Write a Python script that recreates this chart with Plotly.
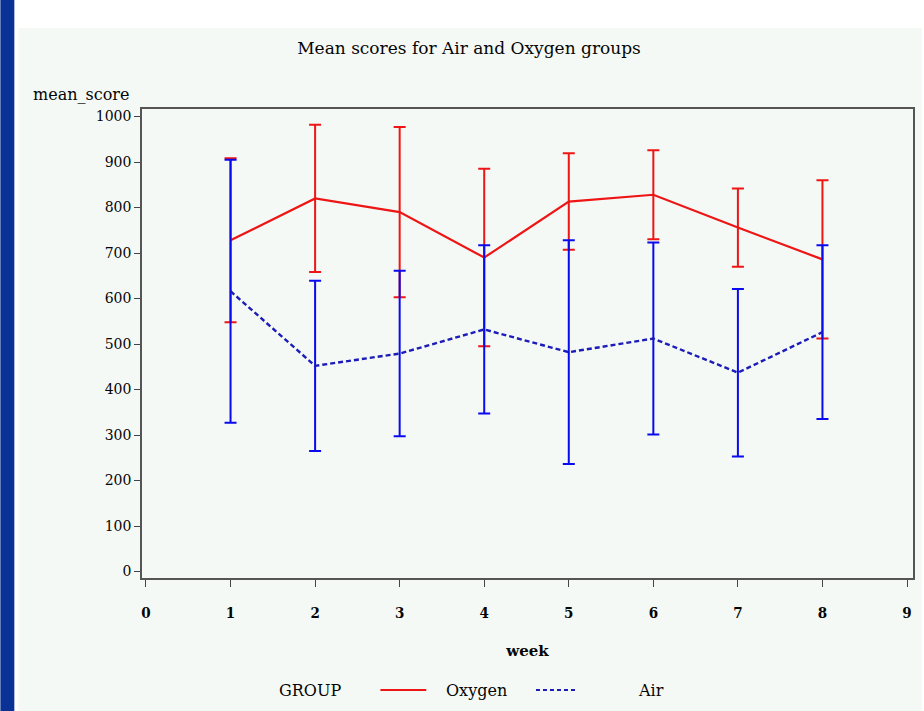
import plotly.graph_objects as go

# Weekly mean scores with +/- error half-widths for each group
weeks = [1, 2, 3, 4, 5, 6, 7, 8]
group_names = ["Oxygen", "Air"]
oxygen_mean = [728, 820, 790, 690, 813, 828, 756, 686]
oxygen_err = [180, 162, 187, 195, 106, 98, 86, 174]
air_mean = [616, 452, 479, 532, 482, 512, 437, 526]
air_err = [289, 187, 182, 185, 246, 211, 184, 191]
x_tick_values = list(range(0, 10))
y_tick_values = list(range(0, 1001, 100))

# Page and plot-area geometry (pixels)
W, H = 924, 711
L, R, T, B = 142, 915, 109, 578
X0_PX, X9_PX = 146, 909          # where week 0 and week 9 sit
Y0_PX, Y1000_PX = 571.5, 116.5   # where score 0 and 1000 sit

x_scale = (X9_PX - X0_PX) / 9.0
y_scale = (Y0_PX - Y1000_PX) / 1000.0
x_range = [(L - X0_PX) / x_scale, (R - X0_PX) / x_scale]
y_range = [(Y0_PX - B) / y_scale, (Y0_PX - T) / y_scale]


def fx(px):
    return (px - L) / (R - L)


def fy(py):
    return (B - py) / (B - T)


RED = "#EE1515"
BLUE = "#0A0AEE"
DASH_BLUE = "#1C1CB8"
SERIF = "DejaVu Serif"
INK = "#050505"

fig = go.Figure()

fig.add_trace(go.Scatter(
    x=weeks, y=oxygen_mean, name=group_names[0], mode="lines",
    line=dict(color=RED, width=2.2),
    error_y=dict(type="data", array=oxygen_err, visible=True,
                 color=RED, thickness=2, width=6),
    showlegend=False,
))
fig.add_trace(go.Scatter(
    x=weeks, y=air_mean, name=group_names[1], mode="lines",
    line=dict(color=DASH_BLUE, width=2.4, dash="5px,3px"),
    error_y=dict(type="data", array=air_err, visible=True,
                 color=BLUE, thickness=2, width=6),
    showlegend=False,
))

axis_common = dict(
    showline=True, linecolor="#555555", linewidth=1.5, mirror=True,
    ticks="outside", tickcolor="#444444", tickwidth=1.2,
    showgrid=False, zeroline=False,
)

fig.update_layout(
    width=W, height=H, autosize=False,
    margin=dict(l=L, r=W - R, t=T, b=H - B, pad=0),
    paper_bgcolor="white",
    plot_bgcolor="rgba(0,0,0,0)",
    title=dict(text="Mean scores for Air and Oxygen groups",
               x=469 / W, xref="container", xanchor="center",
               y=1 - 48 / H, yref="container", yanchor="middle",
               font=dict(family=SERIF, size=17, color=INK)),
    xaxis=dict(range=x_range, tickvals=x_tick_values, ticklen=7,
               ticklabelstandoff=13,
               tickfont=dict(family="DejaVu Serif Condensed, " + SERIF,
                             size=15, color=INK, weight="bold"),
               title=dict(text="week", standoff=25,
                          font=dict(family=SERIF, size=15, color=INK,
                                    weight="bold")),
               **axis_common),
    yaxis=dict(range=y_range, tickvals=y_tick_values, ticklen=6,
               ticklabelstandoff=0,
               tickfont=dict(family=SERIF, size=14, color=INK),
               **axis_common),
    showlegend=False,
)

# Page framing: dark blue strip on the left and a pale panel behind the chart
fig.add_shape(type="rect", xref="paper", yref="paper", layer="below",
              x0=fx(0), x1=fx(14), y0=fy(H), y1=fy(0),
              fillcolor="#0A3196", line=dict(width=0))
fig.add_shape(type="rect", xref="paper", yref="paper", layer="below",
              x0=fx(18), x1=fx(W), y0=fy(H), y1=fy(28),
              fillcolor="#F5F9F6", line=dict(width=0))

# Y axis label at top-left
fig.add_annotation(text="mean_score", xref="paper", yref="paper",
                   x=fx(131), y=fy(95), xanchor="right", yanchor="middle",
                   showarrow=False,
                   font=dict(family=SERIF, size=16, color=INK))

# Group key along the bottom
legend_y = fy(690)
fig.add_annotation(text="GROUP", xref="paper", yref="paper",
                   x=fx(277), y=legend_y, xanchor="left", yanchor="middle",
                   showarrow=False,
                   font=dict(family=SERIF, size=16, color=INK))
fig.add_shape(type="line", xref="paper", yref="paper",
              x0=fx(381), x1=fx(427), y0=legend_y, y1=legend_y,
              line=dict(color=RED, width=2))
fig.add_annotation(text=group_names[0], xref="paper", yref="paper",
                   x=fx(445), y=legend_y, xanchor="left", yanchor="middle",
                   showarrow=False,
                   font=dict(family=SERIF, size=16, color=INK))
fig.add_shape(type="line", xref="paper", yref="paper",
              x0=fx(537), x1=fx(578), y0=legend_y, y1=legend_y,
              line=dict(color=DASH_BLUE, width=2, dash="4px,3px"))
fig.add_annotation(text=group_names[1], xref="paper", yref="paper",
                   x=fx(637), y=legend_y, xanchor="left", yanchor="middle",
                   showarrow=False,
                   font=dict(family=SERIF, size=16, color=INK))

fig.write_html("out.html")
